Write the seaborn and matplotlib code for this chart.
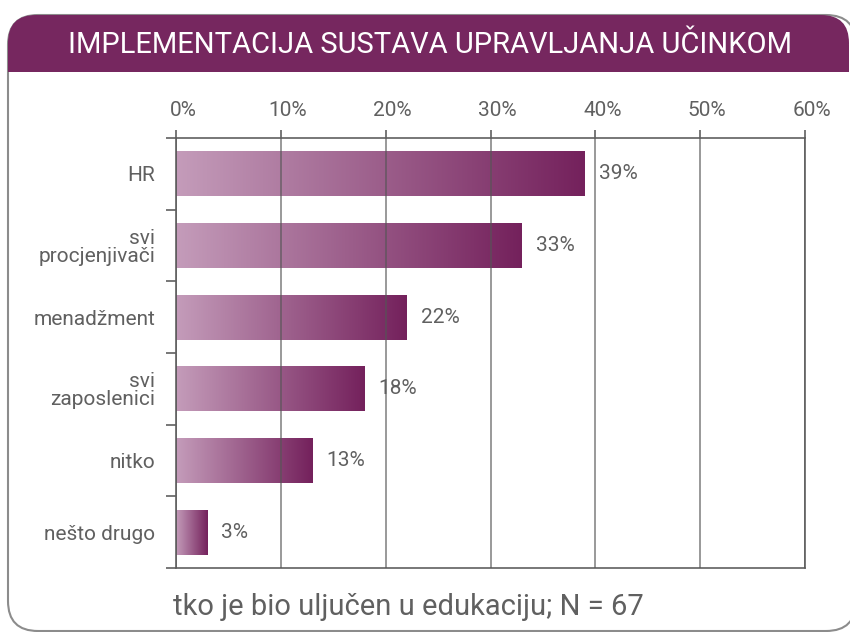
import numpy as np
import pandas as pd
import seaborn as sns
import matplotlib.pyplot as plt
from matplotlib.colors import LinearSegmentedColormap
from matplotlib.patches import FancyBboxPatch, Rectangle
from matplotlib.transforms import ScaledTranslation

# data
categories = ['HR', 'svi\nprocjenjivači', 'menadžment', 'svi\nzaposlenici', 'nitko', 'nešto drugo']
shares = [39, 33, 22, 18, 13, 3]
ticks = [0, 10, 20, 30, 40, 50, 60]
title = 'IMPLEMENTACIJA SUSTAVA UPRAVLJANJA UČINKOM'
note = 'tko je bio uljučen u edukaciju; N = 67'

purple = '#76275f'
grey = '#606060'

sns.set_theme(style='ticks')
plt.rcParams['font.family'] = ['Roboto', 'DejaVu Sans']

W, H = 850, 632
fig = plt.figure(figsize=(W / 100, H / 100), dpi=100)
inch = fig.dpi_scale_trans


def box(x0, y0, x1, y1):
    # pixel box (top-left origin) -> inches (bottom-left origin)
    return x0 / 100, (H - y1) / 100, (x1 - x0) / 100, (y1 - y0) / 100


# rounded frame + header band, kept behind the axes; right/bottom run off the picture
x, y, w, h = box(8, 15, 856, 631)
fig.patches.append(FancyBboxPatch((x, y), w, h, boxstyle='round,pad=0,rounding_size=0.3',
                                  transform=inch, facecolor='white', edgecolor='#8c8c8c',
                                  lw=1.5, zorder=-3))
x, y, w, h = box(8, 15, 849, 72)
fig.patches.append(FancyBboxPatch((x, y), w, h, boxstyle='round,pad=0,rounding_size=0.28',
                                  transform=inch, facecolor=purple, edgecolor='none', zorder=-2))
x, y, w, h = box(8, 45, 849, 72)
fig.patches.append(Rectangle((x, y), w, h, transform=inch, facecolor=purple,
                             edgecolor='none', zorder=-2))

fig.text(4.30, (H - 45) / 100, title, transform=inch, ha='center', va='center', color='white',
         fontsize=21, family=['Roboto', 'DejaVu Sans'])

ax = fig.add_axes([176 / W, 1 - 568 / H, (805 - 176) / W, (568 - 138) / H])
ax.set_zorder(2)
ax.patch.set_alpha(0)

df = pd.DataFrame({'kategorija': categories, 'udio': shares})
sns.barplot(data=df, x='udio', y='kategorija', orient='h', width=0.63, color=purple, ax=ax)

# gradient fill on each bar
cmap = LinearSegmentedColormap.from_list('bar', ['#c49cba', '#74215c'])
grad = np.linspace(0, 1, 256).reshape(1, -1)
for p in ax.patches:
    x0, y0, bw, bh = p.get_x(), p.get_y(), p.get_width(), p.get_height()
    im = ax.imshow(grad, cmap=cmap, extent=[x0, x0 + bw, y0 + bh, y0], aspect='auto',
                   interpolation='bilinear', zorder=1)
    im.set_clip_path(p)
    p.set_facecolor('none')
    p.set_edgecolor('none')

ax.set_xlim(0, 60)
ax.set_ylim(5.5, -0.5)
ax.set_xlabel('')
ax.set_ylabel('')

ax.set_xticks(ticks)
ax.set_xticklabels([f'{t}%' for t in ticks])
ax.tick_params(axis='x', top=True, labeltop=True, bottom=False, labelbottom=False,
               direction='out', length=6, width=1.2, color=grey, labelsize=15, labelcolor=grey, pad=7)
for lab in ax.get_xticklabels():
    lab.set_transform(lab.get_transform() + ScaledTranslation(0.07, 0, inch))

ax.set_yticks(np.arange(-0.5, len(categories), 1), minor=True)
ax.tick_params(axis='y', which='major', length=0, pad=15, labelsize=15, labelcolor=grey)
ax.tick_params(axis='y', which='minor', length=7, width=1.2, color=grey, direction='out')
for lab in ax.get_yticklabels():
    lab.set_multialignment('right')
    lab.set_linespacing(0.95)

ax.grid(axis='x', color='#555555', lw=1.2, alpha=0.7)
ax.set_axisbelow(False)
for s in ax.spines.values():
    s.set_visible(True)
    s.set_color(grey)
    s.set_linewidth(1.2)

ax.bar_label(ax.containers[0], labels=[f'{v}%' for v in shares], padding=10,
             color=grey, fontsize=15)

fig.text(173 / 100, (H - 615) / 100, note, transform=inch, va='baseline', ha='left',
         color=grey, fontsize=21)

fig.savefig('out.png', dpi=100)
